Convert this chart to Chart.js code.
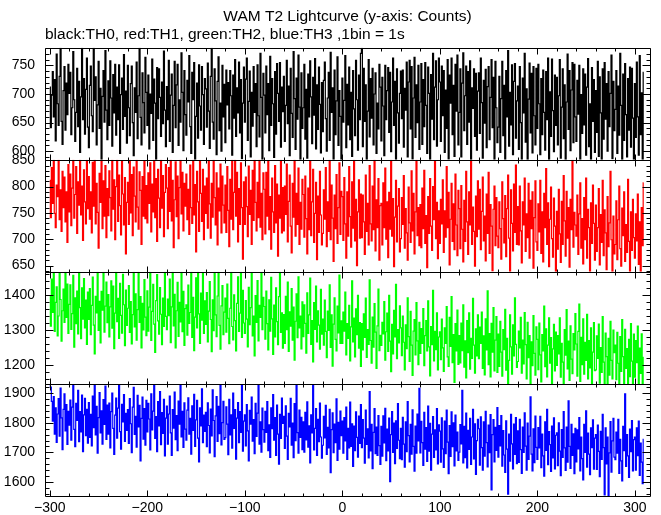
<!DOCTYPE html>
<html>
<head>
<meta charset="utf-8">
<title>WAM T2 Lightcurve</title>
<script src="https://cdn.jsdelivr.net/npm/chart.js@4.4.0/dist/chart.umd.min.js"></script>
<style>
  html, body { margin: 0; padding: 0; background: #fff; }
  #wrap { width: 661px; height: 515px; }
</style>
</head>
<body>
<div id="wrap"><canvas id="lcChart" width="661" height="515"></canvas></div>
<script>
// time axis: first bin and bin width (1bin = 1s)
const tStart = -300;
const binSec = 1;

// counts per bin
const th0 = [
  712, 641, 698, 739, 660, 725, 618, 770, 683, 645, 731, 795, 652, 612, 706, 748, 637, 719, 664, 752,
  701, 738, 629, 676, 774, 690, 617, 668, 745, 643, 722, 598, 695, 785, 655, 727, 630, 708, 763, 642,
  606, 715, 749, 662, 634, 790, 689, 730, 611, 681, 757, 640, 710, 580, 696, 741, 651, 776, 672, 620,
  723, 645, 758, 693, 609, 734, 667, 752, 628, 712, 655, 751, 596, 699, 728, 638, 769, 661, 705, 614,
  750, 676, 627, 718, 749, 650, 592, 711, 668, 756, 622, 697, 788, 659, 611, 737, 685, 632, 764, 703,
  645, 733, 604, 700, 666, 761, 619, 726, 684, 583, 746, 657, 744, 694, 626, 721, 648, 775, 672, 608,
  713, 655, 759, 617, 698, 735, 598, 680, 757, 641, 716, 752, 610, 690, 651, 772, 703, 601, 741, 664,
  628, 724, 686, 767, 643, 596, 738, 690, 755, 578, 661, 719, 623, 751, 679, 637, 748, 699, 612, 727,
  709, 642, 754, 670, 605, 731, 793, 651, 621, 744, 688, 594, 722, 765, 636, 684, 600, 750, 660, 717,
  615, 742, 681, 720, 639, 741, 697, 593, 733, 658, 760, 626, 711, 667, 756, 632, 725, 587, 684, 747,
  651, 726, 763, 619, 687, 740, 590, 703, 644, 748, 668, 718, 608, 751, 662, 625, 771, 694, 580, 736,
  698, 632, 749, 664, 718, 601, 766, 645, 727, 683, 589, 739, 630, 753, 701, 652, 755, 607, 712, 669,
  731, 617, 680, 759, 648, 714, 592, 745, 666, 624, 774, 692, 603, 728, 656, 768, 677, 585, 737, 640,
  676, 752, 621, 708, 588, 735, 660, 758, 695, 613, 729, 663, 762, 604, 716, 638, 747, 682, 597, 720,
  634, 724, 756, 657, 600, 693, 738, 619, 773, 668, 711, 584, 742, 629, 688, 765, 610, 706, 661, 578,
  728, 651, 689, 767, 606, 717, 646, 747, 620, 703, 591, 741, 674, 627, 759, 690, 602, 733, 655, 771,
  786, 608, 745, 652, 716, 581, 670, 760, 625, 727, 658, 745, 611, 700, 737, 596, 684, 639, 752, 712,
  618, 729, 679, 592, 750, 655, 706, 746, 633, 738, 599, 686, 763, 645, 722, 579, 744, 667, 614, 701,
  740, 657, 742, 607, 710, 672, 756, 590, 721, 759, 639, 748, 586, 693, 764, 624, 716, 650, 750, 603,
  686, 753, 612, 725, 643, 755, 680, 596, 747, 701, 577, 734, 656, 771, 620, 712, 758, 609, 690, 763,
  721, 617, 749, 662, 741, 598, 707, 640, 760, 586, 733, 684, 763, 629, 715, 591, 752, 670, 768, 611,
  668, 744, 590, 719, 772, 636, 697, 749, 612, 739, 651, 758, 583, 711, 675, 744, 626, 736, 602, 705,
  737, 631, 763, 685, 588, 724, 649, 743, 606, 713, 748, 620, 694, 760, 641, 729, 582, 757, 676, 615,
  642, 731, 598, 692, 757, 627, 715, 579, 741, 660, 776, 609, 703, 646, 751, 594, 722, 753, 623, 688,
  714, 603, 748, 650, 584, 728, 667, 771, 616, 709, 577, 691, 754, 632, 736, 597, 748, 662, 611, 745,
  640, 752, 683, 594, 727, 629, 742, 668, 602, 739, 655, 763, 580, 704, 626, 761, 671, 599, 733, 645,
  729, 611, 697, 760, 588, 677, 744, 622, 716, 576, 686, 770, 638, 741, 601, 707, 755, 615, 752, 660,
  617, 724, 665, 750, 584, 699, 631, 744, 646, 735, 593, 712, 762, 608, 683, 575, 746, 652, 725, 598,
  706, 633, 757, 591, 730, 667, 580, 744, 621, 755, 656, 718, 600, 739, 643, 701, 768, 587, 722, 636,
  673, 741, 596, 714, 628, 771, 680, 579, 735, 619, 753, 664, 590, 727, 637, 747, 607, 745, 658, 585,
  718, 624, 756, 660, 593, 767, 629, 702, 581, 738
];

const th1 = [
  812, 741, 836, 768, 855, 749, 722, 803, 781, 866, 737, 794, 715, 829, 760, 818, 733, 790, 694, 842,
  752, 824, 726, 797, 861, 740, 785, 838, 711, 809, 765, 872, 746, 801, 698, 832, 771, 729, 851, 758,
  819, 738, 790, 712, 846, 763, 869, 729, 806, 751, 683, 825, 770, 858, 720, 811, 744, 840, 703, 796,
  745, 830, 779, 716, 852, 757, 813, 699, 800, 874, 734, 822, 764, 708, 848, 786, 727, 817, 672, 770,
  808, 728, 859, 750, 823, 707, 837, 782, 733, 865, 761, 719, 828, 793, 690, 819, 744, 849, 739, 802,
  731, 826, 768, 845, 714, 805, 752, 877, 741, 815, 696, 833, 778, 722, 856, 759, 821, 705, 789, 842,
  797, 720, 836, 753, 863, 735, 812, 684, 775, 847, 743, 820, 701, 798, 879, 748, 827, 716, 806, 763,
  824, 737, 795, 709, 841, 760, 730, 857, 746, 804, 676, 829, 771, 715, 850, 787, 734, 833, 699, 801,
  749, 816, 721, 848, 767, 702, 806, 742, 868, 779, 727, 826, 689, 797, 754, 843, 712, 820, 765, 731,
  803, 713, 838, 755, 686, 814, 738, 852, 718, 789, 871, 744, 827, 695, 796, 728, 845, 760, 662, 809,
  728, 818, 762, 705, 839, 747, 793, 690, 831, 736, 852, 770, 716, 808, 741, 866, 723, 787, 699, 826,
  795, 710, 827, 744, 849, 718, 781, 681, 816, 752, 713, 840, 731, 805, 668, 784, 740, 861, 712, 798,
  716, 801, 747, 843, 695, 772, 822, 725, 674, 806, 742, 869, 706, 787, 728, 835, 690, 770, 719, 814,
  785, 704, 820, 739, 672, 797, 718, 848, 707, 771, 833, 694, 749, 808, 661, 782, 713, 829, 746, 689,
  711, 794, 738, 836, 686, 771, 715, 858, 699, 803, 740, 658, 784, 720, 823, 692, 760, 845, 709, 791,
  781, 698, 817, 729, 664, 790, 706, 838, 743, 685, 809, 721, 856, 697, 776, 650, 752, 813, 702, 786,
  703, 784, 733, 671, 822, 715, 768, 689, 840, 729, 697, 801, 718, 867, 678, 775, 722, 815, 660, 764,
  768, 689, 807, 722, 835, 700, 771, 665, 789, 719, 852, 706, 777, 648, 742, 812, 695, 763, 796, 676,
  701, 779, 728, 821, 683, 758, 712, 660, 799, 731, 694, 830, 716, 787, 672, 752, 862, 707, 760, 688,
  766, 684, 797, 720, 831, 692, 745, 646, 781, 711, 815, 725, 679, 800, 737, 848, 701, 770, 663, 754,
  692, 776, 729, 813, 675, 754, 704, 838, 722, 789, 651, 738, 806, 696, 767, 680, 824, 727, 669, 793,
  758, 682, 802, 719, 657, 774, 696, 829, 733, 671, 790, 727, 860, 690, 761, 715, 649, 782, 705, 811,
  719, 795, 680, 753, 818, 697, 744, 659, 786, 711, 827, 673, 766, 725, 640, 757, 801, 688, 779, 706,
  684, 771, 720, 662, 809, 739, 693, 783, 667, 758, 822, 702, 632, 794, 730, 678, 805, 713, 841, 690,
  762, 689, 801, 716, 655, 771, 727, 816, 677, 748, 703, 806, 664, 774, 720, 790, 645, 741, 811, 695,
  679, 767, 714, 812, 673, 752, 657, 787, 722, 834, 690, 769, 648, 738, 799, 701, 666, 778, 725, 631,
  753, 681, 795, 710, 656, 772, 690, 821, 735, 668, 791, 702, 760, 647, 776, 718, 855, 685, 751, 727,
  706, 784, 671, 748, 807, 683, 739, 653, 779, 699, 816, 664, 757, 722, 628, 769, 692, 803, 730, 660,
  765, 677, 722, 796, 651, 747, 694, 812, 669, 756, 712, 642, 781, 686, 731, 829, 699, 630, 744, 672,
  690, 773, 661, 737, 801, 682, 649, 759, 707, 790, 658, 728, 675, 814, 696, 636, 752, 679, 776, 703,
  664, 748, 697, 786, 652, 733, 629, 760, 688, 807
];

const th2 = [
  1398, 1311, 1445, 1350, 1488, 1296, 1379, 1423, 1283, 1340, 1462, 1387, 1268, 1355, 1417, 1322, 1479, 1336, 1431, 1290,
  1373, 1429, 1302, 1347, 1456, 1251, 1392, 1318, 1411, 1289, 1483, 1364, 1275, 1420, 1331, 1447, 1306, 1385, 1259, 1408,
  1330, 1418, 1287, 1370, 1451, 1314, 1232, 1396, 1349, 1475, 1299, 1382, 1263, 1410, 1357, 1466, 1294, 1368, 1437, 1321,
  1401, 1280, 1366, 1440, 1305, 1425, 1247, 1348, 1491, 1324, 1390, 1276, 1433, 1342, 1291, 1459, 1372, 1255, 1414, 1313,
  1362, 1427, 1293, 1381, 1260, 1344, 1469, 1309, 1403, 1271, 1358, 1486, 1322, 1395, 1249, 1376, 1300, 1444, 1337, 1284,
  1412, 1297, 1365, 1482, 1270, 1353, 1430, 1317, 1236, 1384, 1458, 1326, 1288, 1421, 1345, 1258, 1391, 1310, 1470, 1339,
  1301, 1388, 1341, 1445, 1264, 1366, 1487, 1312, 1402, 1249, 1355, 1436, 1282, 1379, 1323, 1467, 1295, 1410, 1256, 1361,
  1372, 1285, 1428, 1319, 1350, 1478, 1279, 1393, 1241, 1337, 1449, 1306, 1490, 1346, 1262, 1405, 1328, 1461, 1290, 1383,
  1316, 1407, 1266, 1354, 1438, 1330, 1238, 1386, 1298, 1465, 1343, 1281, 1397, 1484, 1313, 1245, 1369, 1427, 1287, 1351,
  1391, 1294, 1431, 1333, 1261, 1362, 1474, 1310, 1272, 1400, 1327, 1240, 1376, 1452, 1296, 1348, 1487, 1279, 1413, 1320,
  1290, 1384, 1331, 1252, 1422, 1315, 1364, 1463, 1283, 1340, 1226, 1398, 1322, 1441, 1269, 1370, 1336, 1476, 1301, 1393,
  1367, 1274, 1411, 1318, 1243, 1386, 1297, 1450, 1332, 1230, 1371, 1280, 1420, 1324, 1258, 1395, 1481, 1293, 1349, 1248,
  1344, 1262, 1396, 1301, 1437, 1239, 1352, 1311, 1418, 1271, 1365, 1214, 1325, 1403, 1278, 1452, 1306, 1340, 1246, 1380,
  1281, 1372, 1319, 1234, 1406, 1290, 1343, 1448, 1259, 1327, 1209, 1378, 1302, 1425, 1266, 1355, 1314, 1245, 1416, 1288,
  1331, 1257, 1385, 1296, 1221, 1354, 1299, 1429, 1250, 1343, 1197, 1317, 1392, 1273, 1240, 1368, 1292, 1457, 1262, 1326,
  1262, 1351, 1297, 1408, 1229, 1318, 1276, 1370, 1212, 1309, 1440, 1266, 1334, 1223, 1360, 1287, 1399, 1248, 1321, 1196,
  1318, 1243, 1346, 1279, 1391, 1222, 1301, 1259, 1443, 1270, 1205, 1337, 1251, 1375, 1294, 1190, 1312, 1417, 1241, 1285,
  1256, 1322, 1289, 1381, 1214, 1295, 1348, 1239, 1399, 1268, 1181, 1316, 1232, 1356, 1280, 1430, 1218, 1301, 1263, 1369,
  1306, 1227, 1340, 1265, 1186, 1315, 1247, 1392, 1281, 1210, 1353, 1257, 1170, 1297, 1330, 1229, 1378, 1269, 1201, 1322,
  1233, 1304, 1262, 1361, 1198, 1284, 1327, 1240, 1383, 1252, 1169, 1310, 1258, 1413, 1212, 1296, 1244, 1349, 1186, 1280,
  1295, 1215, 1331, 1249, 1182, 1306, 1262, 1367, 1223, 1196, 1336, 1253, 1395, 1207, 1287, 1150, 1318, 1240, 1357, 1202,
  1284, 1206, 1320, 1241, 1372, 1194, 1269, 1163, 1327, 1235, 1349, 1188, 1276, 1219, 1390, 1257, 1177, 1303, 1226, 1343,
  1218, 1308, 1262, 1351, 1190, 1283, 1172, 1332, 1243, 1412, 1201, 1290, 1166, 1319, 1237, 1364, 1183, 1271, 1338, 1179,
  1288, 1196, 1325, 1237, 1168, 1301, 1244, 1359, 1185, 1276, 1140, 1213, 1343, 1252, 1174, 1315, 1226, 1392, 1259, 1193,
  1210, 1297, 1249, 1336, 1177, 1271, 1203, 1350, 1258, 1160, 1322, 1221, 1284, 1143, 1266, 1198, 1341, 1233, 1171, 1309,
  1273, 1187, 1320, 1229, 1152, 1287, 1240, 1368, 1195, 1303, 1166, 1257, 1335, 1205, 1278, 1139, 1246, 1316, 1183, 1294,
  1199, 1284, 1232, 1335, 1165, 1262, 1208, 1141, 1301, 1228, 1358, 1189, 1268, 1156, 1312, 1217, 1175, 1290, 1243, 1347,
  1260, 1168, 1296, 1374, 1153, 1279, 1201, 1332, 1174, 1265, 1213, 1345, 1160, 1270, 1192, 1306, 1145, 1237, 1321, 1184,
  1186, 1283, 1219, 1317, 1148, 1250, 1179, 1338, 1208, 1137, 1291, 1224, 1142, 1276, 1171, 1325, 1213, 1160, 1300, 1235,
  1257, 1158, 1293, 1205, 1131, 1281, 1182, 1330, 1224, 1144, 1302, 1190, 1247, 1128, 1273, 1167, 1318, 1211, 1139, 1288,
  1165, 1270, 1207, 1311, 1136, 1248, 1176, 1289, 1127, 1222
];

const th3 = [
  1940, 1921, 1873, 1806, 1889, 1762, 1851, 1734, 1830, 1882, 1755, 1918, 1817, 1709, 1846, 1898, 1773, 1862, 1727, 1839,
  1792, 1877, 1741, 1853, 1945, 1778, 1719, 1866, 1808, 1910, 1736, 1838, 1769, 1894, 1702, 1827, 1883, 1757, 1846, 1731,
  1869, 1751, 1829, 1722, 1891, 1784, 1946, 1759, 1856, 1697, 1818, 1903, 1766, 1841, 1728, 1879, 1795, 1925, 1744, 1860,
  1762, 1867, 1715, 1838, 1901, 1781, 1693, 1826, 1884, 1748, 1850, 1938, 1770, 1711, 1863, 1803, 1896, 1737, 1832, 1774,
  1845, 1730, 1882, 1797, 1699, 1853, 1920, 1761, 1822, 1718, 1893, 1786, 1859, 1671, 1815, 1887, 1745, 1848, 1724, 1876,
  1769, 1866, 1813, 1708, 1898, 1776, 1840, 1942, 1747, 1821, 1702, 1872, 1790, 1906, 1726, 1835, 1764, 1880, 1688, 1816,
  1857, 1728, 1830, 1891, 1766, 1690, 1845, 1782, 1904, 1743, 1825, 1706, 1874, 1796, 1944, 1752, 1839, 1717, 1868, 1779,
  1741, 1843, 1885, 1762, 1815, 1694, 1858, 1774, 1897, 1720, 1810, 1876, 1748, 1668, 1851, 1790, 1915, 1733, 1826, 1771,
  1836, 1719, 1868, 1791, 1698, 1847, 1756, 1912, 1808, 1685, 1824, 1889, 1737, 1856, 1763, 1948, 1725, 1801, 1873, 1744,
  1750, 1854, 1796, 1692, 1880, 1759, 1827, 1714, 1901, 1781, 1845, 1677, 1816, 1869, 1733, 1838, 1768, 1927, 1704, 1806,
  1827, 1722, 1862, 1773, 1671, 1842, 1796, 1887, 1738, 1811, 1696, 1866, 1754, 1833, 1949, 1728, 1803, 1701, 1850, 1777,
  1735, 1839, 1768, 1872, 1706, 1793, 1683, 1851, 1780, 1896, 1741, 1818, 1690, 1860, 1762, 1660, 1829, 1747, 1884, 1798,
  1822, 1713, 1858, 1755, 1676, 1832, 1786, 1883, 1724, 1799, 1682, 1865, 1740, 1941, 1767, 1697, 1843, 1751, 1819, 1709,
  1803, 1701, 1836, 1742, 1871, 1718, 1790, 1664, 1827, 1766, 1939, 1708, 1781, 1848, 1690, 1812, 1736, 1867, 1752, 1680,
  1724, 1822, 1749, 1859, 1693, 1785, 1715, 1846, 1631, 1777, 1834, 1699, 1796, 1733, 1881, 1673, 1802, 1711, 1840, 1757,
  1806, 1697, 1818, 1739, 1853, 1676, 1781, 1715, 1870, 1720, 1797, 1652, 1789, 1706, 1837, 1751, 1684, 1823, 1730, 1862,
  1716, 1811, 1748, 1663, 1843, 1727, 1780, 1681, 1906, 1705, 1795, 1645, 1768, 1848, 1696, 1786, 1690, 1825, 1723, 1659,
  1788, 1687, 1824, 1732, 1849, 1672, 1779, 1705, 1816, 1601, 1760, 1838, 1700, 1799, 1662, 1807, 1713, 1865, 1741, 1679,
  1781, 1675, 1819, 1728, 1650, 1803, 1702, 1872, 1757, 1668, 1795, 1694, 1844, 1720, 1636, 1789, 1697, 1830, 1739, 1917,
  1698, 1805, 1733, 1656, 1836, 1711, 1784, 1669, 1857, 1704, 1798, 1640, 1762, 1821, 1683, 1776, 1708, 1848, 1661, 1793,
  1772, 1667, 1817, 1712, 1649, 1806, 1696, 1843, 1735, 1628, 1791, 1686, 1837, 1719, 1800, 1654, 1826, 1705, 1769, 1673,
  1701, 1794, 1729, 1910, 1664, 1788, 1682, 1833, 1647, 1775, 1710, 1815, 1659, 1752, 1846, 1678, 1797, 1625, 1740, 1812,
  1780, 1657, 1820, 1716, 1640, 1803, 1687, 1839, 1733, 1651, 1792, 1699, 1828, 1573, 1760, 1811, 1668, 1785, 1707, 1852,
  1684, 1791, 1722, 1825, 1653, 1774, 1691, 1632, 1807, 1711, 1558, 1762, 1670, 1829, 1729, 1644, 1796, 1693, 1818, 1662,
  1773, 1666, 1812, 1709, 1629, 1786, 1700, 1834, 1721, 1640, 1799, 1676, 1755, 1888, 1694, 1637, 1780, 1665, 1823, 1717,
  1676, 1784, 1715, 1822, 1648, 1762, 1688, 1619, 1803, 1707, 1846, 1658, 1770, 1726, 1635, 1789, 1681, 1817, 1644, 1758,
  1766, 1655, 1800, 1704, 1621, 1777, 1683, 1838, 1715, 1639, 1786, 1667, 1875, 1720, 1646, 1795, 1690, 1763, 1628, 1781,
  1668, 1776, 1712, 1818, 1637, 1752, 1679, 1607, 1795, 1700, 1841, 1650, 1765, 1694, 1624, 1783, 1716, 1810, 1643, 1748,
  1760, 1642, 1792, 1703, 1618, 1771, 1676, 1829, 1716, 1556, 1783, 1661, 1752, 1549, 1698, 1804, 1633, 1739, 1815, 1684,
  1675, 1769, 1697, 1812, 1629, 1744, 1671, 1603, 1788, 1706, 1898, 1652, 1760, 1688, 1615, 1779, 1702, 1808, 1637, 1743,
  1752, 1640, 1783, 1689, 1806, 1622, 1731, 1667, 1594, 1744
];

// tick labels
const xTicks = [-300, -200, -100, 0, 100, 200, 300];
const yTicks0 = [600, 650, 700, 750];
const yTicks1 = [650, 700, 750, 800, 850];
const yTicks2 = [1200, 1300, 1400];
const yTicks3 = [1600, 1700, 1800, 1900];

const minorStep = { x: 20, y0: 10, y1: 10, y2: 20, y3: 20 };

function toPoints(arr) {
  return arr.map((v, i) => ({ x: tStart + i * binSec, y: v }));
}

function lcSet(arr, color, axis) {
  return {
    data: toPoints(arr),
    yAxisID: axis,
    borderColor: color,
    borderWidth: 1.2,
    pointRadius: 0,
    stepped: 'middle',
    fill: false
  };
}

function yAxis(min, max, ticks, weight) {
  return {
    type: 'linear',
    position: 'left',
    stack: 'panels',
    stackWeight: 1,
    weight: weight,
    min: min,
    max: max,
    grid: { display: false, drawTicks: false },
    border: { display: false },
    ticks: {
      color: '#000',
      padding: 10,
      autoSkip: false,
      font: { size: 14 },
      callback: v => String(v)
    },
    afterBuildTicks: s => { s.ticks = ticks.map(v => ({ value: v })); },
    afterFit: s => { s.width = 45; }
  };
}

// frames, inward ticks and per-panel clipping (IDL style stacked plots)
const panelFrames = {
  id: 'panelFrames',
  beforeDatasetDraw(chart, args) {
    const ds = chart.data.datasets[args.index];
    const ys = chart.scales[ds.yAxisID];
    const a = chart.chartArea;
    chart.ctx.save();
    chart.ctx.beginPath();
    chart.ctx.rect(a.left, ys.top, a.right - a.left, ys.bottom - ys.top);
    chart.ctx.clip();
  },
  afterDatasetDraw(chart) {
    chart.ctx.restore();
  },
  afterDraw(chart) {
    const ctx = chart.ctx;
    const a = chart.chartArea;
    const xs = chart.scales.x;
    const px = v => Math.round(v) + 0.5;
    const l = px(a.left), r = px(a.right);
    ctx.save();
    ctx.strokeStyle = '#000';
    ctx.lineWidth = 1;
    ctx.beginPath();
    ['y0', 'y1', 'y2', 'y3'].forEach(id => {
      const ys = chart.scales[id];
      const top = px(ys.top), bot = px(ys.bottom);
      ctx.rect(l, top, r - l, bot - top);
      // x ticks on top and bottom of every panel
      for (let v = Math.ceil(xs.min / minorStep.x) * minorStep.x; v <= xs.max; v += minorStep.x) {
        const x = px(xs.getPixelForValue(v));
        const len = xTicks.includes(v) ? 6 : 3;
        ctx.moveTo(x, top); ctx.lineTo(x, top + len);
        ctx.moveTo(x, bot); ctx.lineTo(x, bot - len);
      }
      // y ticks on both sides
      const ticks = ys.ticks.map(t => t.value);
      const st = minorStep[id];
      for (let v = Math.ceil(ys.min / st) * st; v <= ys.max; v += st) {
        const y = px(ys.getPixelForValue(v));
        const len = ticks.includes(v) ? 8 : 4;
        ctx.moveTo(l, y); ctx.lineTo(l + len, y);
        ctx.moveTo(r, y); ctx.lineTo(r - len, y);
      }
    });
    ctx.stroke();
    ctx.restore();
  }
};

Chart.defaults.font.family = '"Liberation Sans", Arial, Helvetica, sans-serif';
Chart.defaults.font.size = 14;
Chart.defaults.color = '#000';

new Chart(document.getElementById('lcChart').getContext('2d'), {
  type: 'line',
  data: {
    datasets: [
      lcSet(th0, '#000000', 'y0'),
      lcSet(th1, '#ff0000', 'y1'),
      lcSet(th2, '#00ff00', 'y2'),
      lcSet(th3, '#0000ff', 'y3')
    ]
  },
  options: {
    responsive: false,
    animation: false,
    devicePixelRatio: 1,
    parsing: false,
    layout: { padding: { left: 0, right: 11, top: 0, bottom: 0 } },
    plugins: {
      legend: { display: false },
      tooltip: { enabled: false },
      title: {
        display: true,
        text: 'WAM T2 Lightcurve (y-axis: Counts)',
        fullSize: false,
        align: 'center',
        color: '#000',
        font: { size: 15.5, weight: 'normal' },
        padding: { top: 7, bottom: 0 }
      },
      subtitle: {
        display: true,
        text: 'black:TH0, red:TH1, green:TH2, blue:TH3 ,1bin = 1s',
        fullSize: false,
        align: 'start',
        color: '#000',
        font: { size: 15.5, weight: 'normal' },
        padding: { top: 0, bottom: 3.5 }
      }
    },
    scales: {
      x: {
        type: 'linear',
        position: 'bottom',
        min: -305,
        max: 315.5,
        grid: { display: false, drawTicks: false },
        border: { display: false },
        ticks: {
          color: '#000',
          padding: 4,
          autoSkip: false,
          maxRotation: 0,
          font: { size: 14 },
          callback: v => String(v).replace('-', '\u2212')
        },
        afterBuildTicks: s => { s.ticks = xTicks.map(v => ({ value: v })); },
        afterFit: s => { s.height = 19; }
      },
      y0: yAxis(585, 781, yTicks0, 4),
      y1: yAxis(638, 851, yTicks1, 3),
      y2: yAxis(1146, 1466, yTicks2, 2),
      y3: yAxis(1552, 1932, yTicks3, 1)
    }
  },
  plugins: [panelFrames]
});
</script>
</body>
</html>
